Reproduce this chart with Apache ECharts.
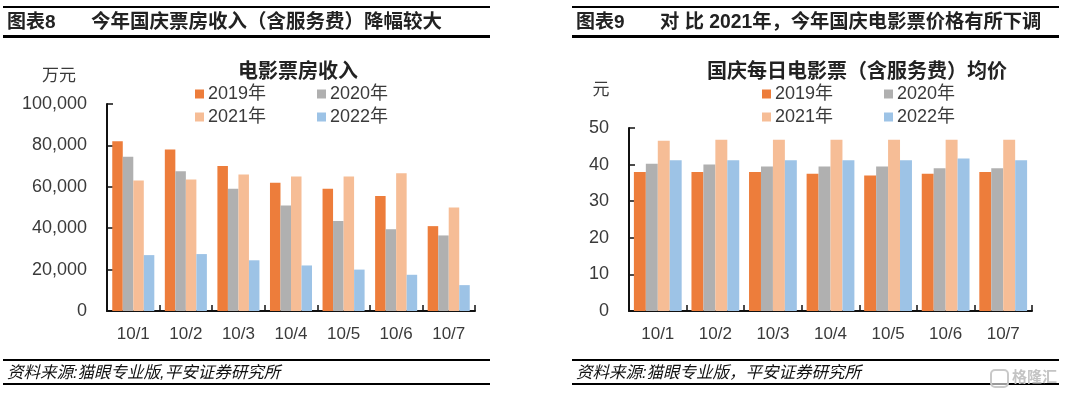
<!DOCTYPE html>
<html>
<head>
<meta charset="utf-8">
<style>
  html, body { margin: 0; padding: 0; background: #fff; }
  #chart { width: 1080px; height: 395px; }
</style>
<script src="https://cdn.jsdelivr.net/npm/echarts@6/dist/echarts.min.js"></script>
</head>
<body>
<div id="chart"></div>
<script>
var days = ['10/1', '10/2', '10/3', '10/4', '10/5', '10/6', '10/7'];
var years = ['2019年', '2020年', '2021年', '2022年'];
var yearColors = ['#ed7d3b', '#b0b0b0', '#f6bd96', '#9dc3e6'];

var box2019 = [82000, 78000, 70000, 62000, 59000, 55500, 41000];
var box2020 = [74500, 67500, 59000, 51000, 43500, 39500, 36500];
var box2021 = [63000, 63500, 66000, 65000, 65000, 66500, 50000];
var box2022 = [27000, 27500, 24500, 22000, 20000, 17500, 12500];

var price2019 = [38, 38, 38, 37.5, 37, 37.5, 38];
var price2020 = [40.2, 40, 39.5, 39.5, 39.5, 39, 39];
var price2021 = [46.5, 46.8, 46.8, 46.8, 46.8, 46.8, 46.8];
var price2022 = [41.2, 41.2, 41.2, 41.2, 41.2, 41.7, 41.2];

var font = '"Liberation Sans", "Noto Sans CJK SC", sans-serif';
var textColor = '#3a3a3a';

function axisX(index) {
  return {
    type: 'category',
    gridIndex: index,
    data: days,
    axisLine: { lineStyle: { color: '#111', width: 2 } },
    axisTick: { show: true, inside: true, length: 6, lineStyle: { color: '#111', width: 1.5 } },
    axisLabel: { color: textColor, fontFamily: font, fontSize: 17, margin: 15 }
  };
}

function axisY(index, max, step) {
  return {
    type: 'value',
    gridIndex: index,
    min: 0,
    max: max,
    interval: step,
    splitLine: { show: false },
    axisLine: { show: true, lineStyle: { color: '#111', width: 2 } },
    axisTick: { show: true, inside: true, length: 6, lineStyle: { color: '#111', width: 1.5 } },
    axisLabel: {
      color: textColor, fontFamily: font, fontSize: 18, margin: 20,
      formatter: function (v) { return v.toLocaleString('en-US'); }
    }
  };
}

function bars(index, name, values, color, gap) {
  return {
    type: 'bar',
    name: name,
    xAxisIndex: index,
    yAxisIndex: index,
    data: values,
    barGap: 0,
    barCategoryGap: gap,
    itemStyle: { color: color },
    silent: true
  };
}

function legendAt(name, left, top) {
  return {
    data: [name],
    left: left,
    top: top,
    padding: 0,
    itemWidth: 9,
    itemHeight: 9,
    icon: 'rect',
    itemGap: 4,
    selectedMode: false,
    textStyle: { color: textColor, fontFamily: font, fontSize: 18, padding: [0, 0, 0, -1] }
  };
}

function rule(x, y, w, h) {
  return { type: 'rect', shape: { x: x, y: y, width: w, height: h }, style: { fill: '#000' } };
}

function label(x, y, text, size, extra) {
  var style = { x: x, y: y, text: text, fill: extra && extra.fill || '#222', fontFamily: font, fontSize: size,
    fontWeight: extra && extra.weight || 'normal', fontStyle: extra && extra.italic ? 'italic' : 'normal',
    textAlign: extra && extra.align || 'left', textVerticalAlign: 'middle' };
  return { type: 'text', style: style };
}

var chart = echarts.init(document.getElementById('chart'));
var option = {
  animation: false,
  backgroundColor: '#fff',
  grid: [
    { left: 107, top: 104, width: 368, height: 207, containLabel: false },
    { left: 629, top: 128, width: 403, height: 183, containLabel: false }
  ],
  xAxis: [axisX(0), axisX(1)],
  yAxis: [axisY(0, 100000, 20000), axisY(1, 50, 10)],
  legend: [
    legendAt(years[0], 195, 85), legendAt(years[1], 317, 85),
    legendAt(years[2], 195, 108), legendAt(years[3], 317, 108),
    legendAt(years[0], 762, 85), legendAt(years[1], 884, 85),
    legendAt(years[2], 762, 108), legendAt(years[3], 884, 108)
  ],
  series: [
    bars(0, years[0], box2019, yearColors[0], '20%'),
    bars(0, years[1], box2020, yearColors[1], '20%'),
    bars(0, years[2], box2021, yearColors[2], '20%'),
    bars(0, years[3], box2022, yearColors[3], '20%'),
    bars(1, years[0], price2019, yearColors[0], '17%'),
    bars(1, years[1], price2020, yearColors[1], '17%'),
    bars(1, years[2], price2021, yearColors[2], '17%'),
    bars(1, years[3], price2022, yearColors[3], '17%')
  ],
  graphic: [
    rule(3, 6, 487, 2), rule(3, 35, 487, 3), rule(3, 359, 487, 2), rule(3, 383, 487, 2),
    rule(572, 6, 487, 2), rule(572, 35, 487, 3), rule(572, 359, 487, 2), rule(572, 383, 487, 2),
    label(7, 23, '图表8', 19, { weight: 'bold', fill: '#222' }),
    label(91, 23, '今年国庆票房收入（含服务费）降幅较大', 19.5, { weight: 'bold', fill: '#222' }),
    label(576, 23, '图表9', 19, { weight: 'bold', fill: '#222' }),
    label(660, 23, '对 比 2021年，今年国庆电影票价格有所下调', 19.3, { weight: 'bold', fill: '#222' }),
    label(59, 76, '万元', 17, { align: 'center', fill: textColor }),
    label(298, 72, '电影票房收入', 20, { align: 'center', weight: 'bold', fill: '#222' }),
    label(601, 90, '元', 17, { align: 'center', fill: textColor }),
    label(857, 72, '国庆每日电影票（含服务费）均价', 20, { align: 'center', weight: 'bold', fill: '#222' }),
    label(7, 373, '资料来源:猫眼专业版,平安证券研究所', 16.5, { italic: true, fill: '#111' }),
    label(576, 373, '资料来源:猫眼专业版，平安证券研究所', 16.5, { italic: true, fill: '#111' }),
    { type: 'rect', shape: { x: 991, y: 370, width: 17, height: 17, r: 4 }, style: { fill: 'rgba(255,255,255,0.6)', stroke: '#c9c9c9', lineWidth: 2 } },
    label(1012, 378, '格隆汇', 15, { fill: '#c4c4c4', weight: 'bold' })
  ]
};
chart.setOption(option);
</script>
</body>
</html>
